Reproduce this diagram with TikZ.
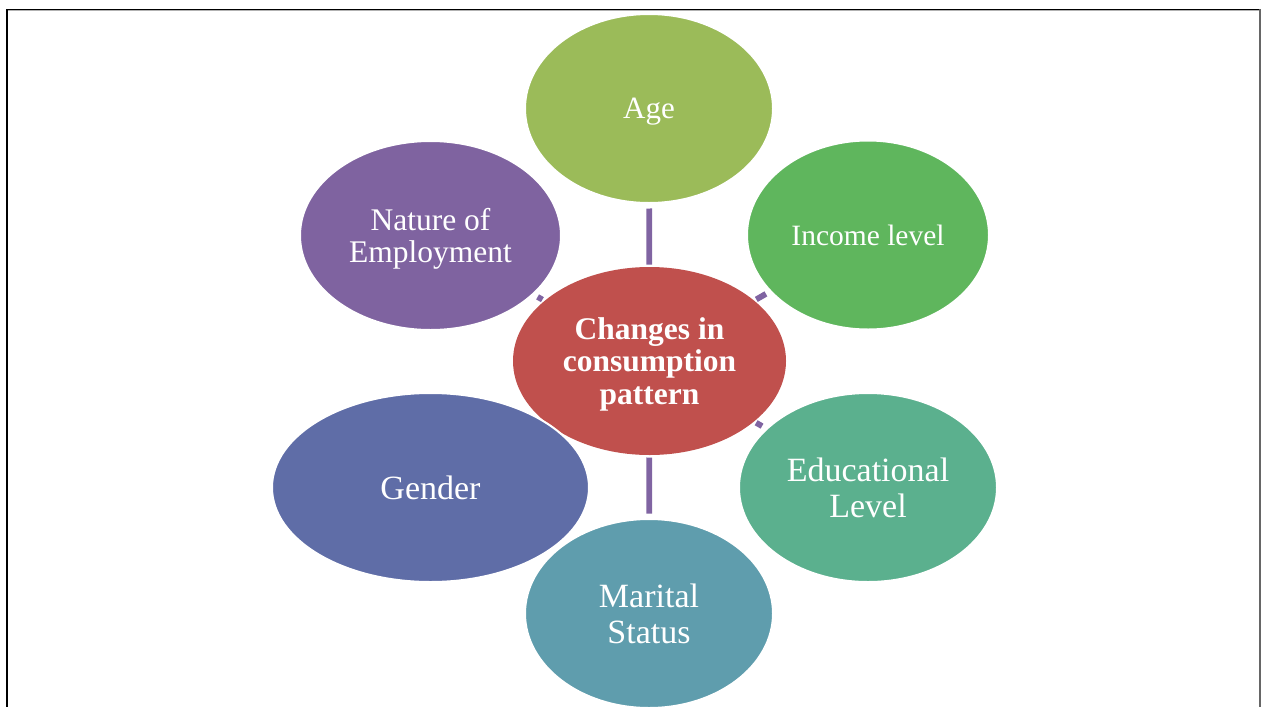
\documentclass[tikz,border=0pt]{standalone}
\usepackage{fontspec}
\setmainfont{Liberation Serif}
\usetikzlibrary{shapes.geometric}

\definecolor{agecol}{HTML}{9BBB59}
\definecolor{inccol}{HTML}{5FB65D}
\definecolor{educol}{HTML}{5BB08E}
\definecolor{marcol}{HTML}{5F9DAD}
\definecolor{gencol}{HTML}{5F6DA7}
\definecolor{natcol}{HTML}{7F63A0}
\definecolor{cencol}{HTML}{C0504D}
\definecolor{linkcol}{HTML}{8064A2}

\tikzset{
  bubble/.style={ellipse, inner sep=0pt, outer sep=0pt, draw=white, line width=2pt,
    text=white, align=center, text depth=0pt},
  link/.style={draw=linkcol, line width=5.8pt, shorten <=2.5pt, shorten >=5.5pt},
}

\begin{document}
\begin{tikzpicture}[x=1pt, y=-1pt]
  \useasboundingbox (0,0) rectangle (1261,707);
  \clip (0,0) rectangle (1261,707);

  % page frame
  \draw[black, line width=2pt] (7,9) -- (7,707);
  \draw[black, line width=1.2pt] (7,9.6) -- (1260,9.6);
  \draw[gray!60, line width=1pt] (8,10.8) -- (1259,10.8);
  \draw[gray!80!black, line width=1.2pt] (1260,9) -- (1260,707);

  % bubble centres (pixel grid, y downwards)
  \path
    (649.5,361) coordinate (pCen)
    (649,108.5) coordinate (pAge)
    (868,235)   coordinate (pInc)
    (868,487.5) coordinate (pEdu)
    (649,613.5) coordinate (pMar)
    (430.5,487.5) coordinate (pGen)
    (430.5,235.5) coordinate (pNat);

  \node[bubble, draw=none, fill=cencol, minimum width=273pt, minimum height=188pt,
        font=\fontsize{31.5}{32.5}\selectfont\bfseries] (cen) at (pCen)
      {Changes in\\consumption\\pattern};

  \node[bubble, fill=agecol, minimum width=248pt, minimum height=189pt,
        font=\fontsize{31}{33}\selectfont] (age) at (pAge) {Age};
  \node[bubble, fill=inccol, minimum width=242pt, minimum height=189pt,
        font=\fontsize{29.5}{33}\selectfont] (inc) at (pInc) {Income level};
  \node[bubble, fill=educol, minimum width=258pt, minimum height=189pt,
        font=\fontsize{34}{35.7}\selectfont] (edu) at (pEdu) {Educational\\Level};
  \node[bubble, fill=marcol, minimum width=248pt, minimum height=189pt,
        font=\fontsize{34}{36}\selectfont] (mar) at (pMar) {Marital\\Status};
  \node[bubble, fill=gencol, minimum width=317pt, minimum height=189pt,
        font=\fontsize{34}{36}\selectfont] (gen) at (pGen) {Gender};
  \node[bubble, fill=natcol, minimum width=261pt, minimum height=189pt,
        font=\fontsize{31.5}{32.7}\selectfont] (nat) at (pNat) {Nature of\\Employment};

  % short spokes between the centre and the outer bubbles
  \draw[link] (cen) -- (age);
  \draw[link] (cen) -- (inc);
  \draw[link] (cen) -- (edu);
  \draw[link] (cen) -- (mar);
  \draw[link] (cen) -- (nat);
\end{tikzpicture}
\end{document}
